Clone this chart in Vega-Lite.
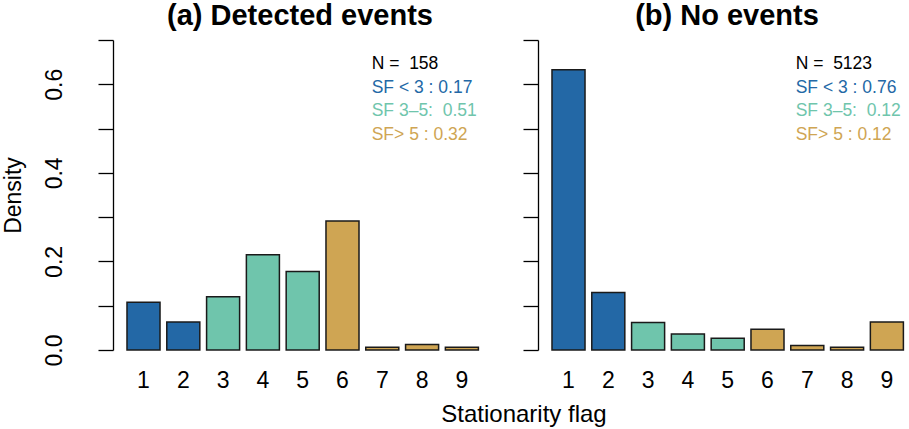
{
  "$schema": "https://vega.github.io/schema/vega-lite/v6.json",
  "padding": {"left": 2, "right": 0, "top": 2, "bottom": 0},
  "background": "white",
  "datasets": {
    "bars": [
      {"panel": "a", "sf": 1, "density": 0.1076, "group": "lt3"},
      {"panel": "a", "sf": 2, "density": 0.0633, "group": "lt3"},
      {"panel": "a", "sf": 3, "density": 0.1203, "group": "3to5"},
      {"panel": "a", "sf": 4, "density": 0.2152, "group": "3to5"},
      {"panel": "a", "sf": 5, "density": 0.1772, "group": "3to5"},
      {"panel": "a", "sf": 6, "density": 0.2911, "group": "gt5"},
      {"panel": "a", "sf": 7, "density": 0.0063, "group": "gt5"},
      {"panel": "a", "sf": 8, "density": 0.0127, "group": "gt5"},
      {"panel": "a", "sf": 9, "density": 0.0063, "group": "gt5"},
      {"panel": "b", "sf": 1, "density": 0.633, "group": "lt3"},
      {"panel": "b", "sf": 2, "density": 0.130, "group": "lt3"},
      {"panel": "b", "sf": 3, "density": 0.062, "group": "3to5"},
      {"panel": "b", "sf": 4, "density": 0.036, "group": "3to5"},
      {"panel": "b", "sf": 5, "density": 0.0265, "group": "3to5"},
      {"panel": "b", "sf": 6, "density": 0.047, "group": "gt5"},
      {"panel": "b", "sf": 7, "density": 0.010, "group": "gt5"},
      {"panel": "b", "sf": 8, "density": 0.006, "group": "gt5"},
      {"panel": "b", "sf": 9, "density": 0.063, "group": "gt5"}
    ],
    "notes": [
      {"panel": "a", "line": 1, "label": "N = \u00a0158"},
      {"panel": "a", "line": 2, "label": "SF < 3 : 0.17"},
      {"panel": "a", "line": 3, "label": "SF 3–5: \u00a00.51"},
      {"panel": "a", "line": 4, "label": "SF> 5 : 0.32"},
      {"panel": "b", "line": 1, "label": "N = \u00a05123"},
      {"panel": "b", "line": 2, "label": "SF < 3 : 0.76"},
      {"panel": "b", "line": 3, "label": "SF 3–5: \u00a00.12"},
      {"panel": "b", "line": 4, "label": "SF> 5 : 0.12"}
    ]
  },
  "config": {
    "font": "Liberation Sans",
    "view": {"stroke": null},
    "axisX": {
      "domain": false, "ticks": false, "labelAngle": 0, "labelFontSize": 23,
      "labelColor": "black", "labelPadding": 19, "title": null, "grid": false
    },
    "axisY": {
      "domainColor": "black", "domainWidth": 1.3, "tickColor": "black", "tickWidth": 1.3,
      "tickSize": 15, "grid": false, "labelAngle": 270, "labelAlign": "center",
      "labelBaseline": "alphabetic", "labelFontSize": 23, "labelColor": "black",
      "labelPadding": 37, "titleFontSize": 23, "titleFontWeight": "normal",
      "titleColor": "black", "titlePadding": 18,
      "values": [0, 0.1, 0.2, 0.3, 0.4, 0.5, 0.6, 0.7],
      "labelExpr": "round(datum.value * 10) % 2 == 0 ? format(datum.value, '.1f') : ''"
    },
    "text": {"font": "Liberation Sans", "fontSize": 17.5}
  },
  "spacing": 57,
  "bounds": "flush",
  "title": {
    "text": "Stationarity flag", "orient": "bottom", "anchor": "middle",
    "fontSize": 24, "fontWeight": "normal", "color": "black", "offset": 11, "dx": 70
  },
  "hconcat": [
    {
      "width": 368, "height": 310,
      "title": {"text": "(a) Detected events", "fontSize": 29, "fontWeight": "bold", "color": "black", "anchor": "middle", "dx": 3, "offset": -15, "baseline": "alphabetic"},
      "layer": [
        {
          "data": {"name": "bars"},
          "transform": [{"filter": "datum.panel == 'a'"}],
          "mark": {"type": "bar", "stroke": "#1a1a1a", "strokeWidth": 1.5},
          "encoding": {
            "x": {"field": "sf", "type": "ordinal", "title": null,
                  "scale": {"domain": [1, 2, 3, 4, 5, 6, 7, 8, 9], "paddingInner": 0.17, "paddingOuter": 0.2085, "align": 0.843}},
            "y": {"field": "density", "type": "quantitative", "title": "Density",
                  "scale": {"domain": [0, 0.7], "nice": false}},
            "color": {"field": "group", "type": "nominal",
                      "scale": {"domain": ["lt3", "3to5", "gt5"], "range": ["#2368A6", "#6FC5AC", "#CFA553"]},
                      "legend": null}
          }
        },
        {
          "data": {"name": "notes"},
          "transform": [{"filter": "datum.panel == 'a' && datum.line == 1"}],
          "mark": {"type": "text", "align": "left", "baseline": "alphabetic", "dx": -10.6, "color": "black"},
          "encoding": {"x": {"datum": 7, "type": "ordinal", "title": null}, "y": {"datum": 0.634, "type": "quantitative", "title": "Density"}, "text": {"field": "label"}}
        },
        {
          "data": {"name": "notes"},
          "transform": [{"filter": "datum.panel == 'a' && datum.line == 2"}],
          "mark": {"type": "text", "align": "left", "baseline": "alphabetic", "dx": -10.6, "color": "#2368A6"},
          "encoding": {"x": {"datum": 7, "type": "ordinal", "title": null}, "y": {"datum": 0.581, "type": "quantitative", "title": "Density"}, "text": {"field": "label"}}
        },
        {
          "data": {"name": "notes"},
          "transform": [{"filter": "datum.panel == 'a' && datum.line == 3"}],
          "mark": {"type": "text", "align": "left", "baseline": "alphabetic", "dx": -10.6, "color": "#6FC5AC"},
          "encoding": {"x": {"datum": 7, "type": "ordinal", "title": null}, "y": {"datum": 0.528, "type": "quantitative", "title": "Density"}, "text": {"field": "label"}}
        },
        {
          "data": {"name": "notes"},
          "transform": [{"filter": "datum.panel == 'a' && datum.line == 4"}],
          "mark": {"type": "text", "align": "left", "baseline": "alphabetic", "dx": -10.6, "color": "#CFA553"},
          "encoding": {"x": {"datum": 7, "type": "ordinal", "title": null}, "y": {"datum": 0.475, "type": "quantitative", "title": "Density"}, "text": {"field": "label"}}
        }
      ]
    },
    {
      "width": 368, "height": 310,
      "title": {"text": "(b) No events", "fontSize": 29, "fontWeight": "bold", "color": "black", "anchor": "middle", "dx": 5, "offset": -15, "baseline": "alphabetic"},
      "layer": [
        {
          "data": {"name": "bars"},
          "transform": [{"filter": "datum.panel == 'b'"}],
          "mark": {"type": "bar", "stroke": "#1a1a1a", "strokeWidth": 1.5},
          "encoding": {
            "x": {"field": "sf", "type": "ordinal", "title": null,
                  "scale": {"domain": [1, 2, 3, 4, 5, 6, 7, 8, 9], "paddingInner": 0.17, "paddingOuter": 0.2085, "align": 0.843}},
            "y": {"field": "density", "type": "quantitative", "title": null,
                  "scale": {"domain": [0, 0.7], "nice": false},
                  "axis": {"labels": false, "title": null}},
            "color": {"field": "group", "type": "nominal",
                      "scale": {"domain": ["lt3", "3to5", "gt5"], "range": ["#2368A6", "#6FC5AC", "#CFA553"]},
                      "legend": null}
          }
        },
        {
          "data": {"name": "notes"},
          "transform": [{"filter": "datum.panel == 'b' && datum.line == 1"}],
          "mark": {"type": "text", "align": "left", "baseline": "alphabetic", "dx": -11.6, "color": "black"},
          "encoding": {"x": {"datum": 7, "type": "ordinal", "title": null}, "y": {"datum": 0.634, "type": "quantitative", "title": null}, "text": {"field": "label"}}
        },
        {
          "data": {"name": "notes"},
          "transform": [{"filter": "datum.panel == 'b' && datum.line == 2"}],
          "mark": {"type": "text", "align": "left", "baseline": "alphabetic", "dx": -11.6, "color": "#2368A6"},
          "encoding": {"x": {"datum": 7, "type": "ordinal", "title": null}, "y": {"datum": 0.581, "type": "quantitative", "title": null}, "text": {"field": "label"}}
        },
        {
          "data": {"name": "notes"},
          "transform": [{"filter": "datum.panel == 'b' && datum.line == 3"}],
          "mark": {"type": "text", "align": "left", "baseline": "alphabetic", "dx": -11.6, "color": "#6FC5AC"},
          "encoding": {"x": {"datum": 7, "type": "ordinal", "title": null}, "y": {"datum": 0.528, "type": "quantitative", "title": null}, "text": {"field": "label"}}
        },
        {
          "data": {"name": "notes"},
          "transform": [{"filter": "datum.panel == 'b' && datum.line == 4"}],
          "mark": {"type": "text", "align": "left", "baseline": "alphabetic", "dx": -11.6, "color": "#CFA553"},
          "encoding": {"x": {"datum": 7, "type": "ordinal", "title": null}, "y": {"datum": 0.475, "type": "quantitative", "title": null}, "text": {"field": "label"}}
        }
      ]
    }
  ]
}
